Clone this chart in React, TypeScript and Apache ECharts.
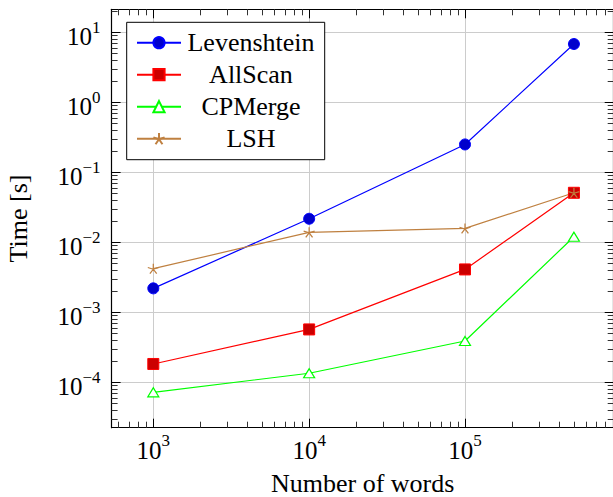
import React, { useEffect, useRef } from 'react';
import * as echarts from 'echarts';

// ---- data ----
const words = [1e3, 1e4, 1e5, 5e5];
const levenshtein = [0.0022, 0.0217, 0.25, 6.8];
const allScan = [0.000183, 0.00057, 0.0041, 0.051];
const cpMerge = [0.000072, 0.000135, 0.00039, 0.012];
const lsh = [0.0042, 0.0139, 0.0158, 0.051];
const seriesNames = ['Levenshtein', 'AllScan', 'CPMerge', 'LSH'];

// ---- ticks ----
const xMajorTicks = [1e3, 1e4, 1e5];
const yMajorTicks = [1e-4, 1e-3, 1e-2, 1e-1, 1, 10];
const xDecades = [1e2, 1e3, 1e4, 1e5];
const yDecades = [1e-5, 1e-4, 1e-3, 1e-2, 1e-1, 1, 10];
const minorMultipliers = [2, 3, 4, 5, 6, 7, 8, 9];

const X_MIN = 540;
const X_MAX = 9.0e5;
const Y_MIN = 2.25e-5;
const Y_MAX = 21.3;

const FONT = "'Liberation Serif', 'Times New Roman', serif";

const minorOf = (decades: number[], lo: number, hi: number) =>
  decades
    .flatMap((d) => minorMultipliers.map((m) => parseFloat((m * d).toPrecision(6))))
    .filter((v) => v >= lo && v <= hi);

const xMinorTicks = minorOf(xDecades, X_MIN, X_MAX);
const yMinorTicks = minorOf(yDecades, Y_MIN, Y_MAX);

const pairs = (ys: number[]) => words.map((x, i) => [x, ys[i]]);

const expLabel = (v: number) => {
  const e = Math.round(Math.log10(v));
  const s = e < 0 ? '\u2212' + Math.abs(e) : String(e);
  return `{b|10}{s|${s}}`;
};

const richLabel = {
  b: { fontSize: 25, lineHeight: 30.5, verticalAlign: 'bottom', fontFamily: FONT, color: '#000' },
  s: { fontSize: 17, lineHeight: 17, verticalAlign: 'top', fontFamily: FONT, color: '#000' },
};

const STAR =
  'path://M0,-1L0,0M0.951,-0.309L0,0M0.588,0.809L0,0M-0.588,0.809L0,0M-0.951,-0.309L0,0';

export default function App() {
  const ref = useRef<HTMLDivElement>(null);

  useEffect(() => {
    if (!ref.current) return;
    const chart = echarts.init(ref.current, undefined, { renderer: 'svg' });

    const gridRect = {
      left: 111.6,
      top: 9.3,
      width: 502.1,
      height: 418.4,
      containLabel: false,
      outerBoundsMode: 'none',
    };
    const axisLine = { show: true, lineStyle: { color: '#000', width: 1.2 } };

    const majorX = (gridIndex: number, position: 'bottom' | 'top', withLabels: boolean) => ({
      type: 'log',
      gridIndex,
      position,
      min: X_MIN,
      max: X_MAX,
      axisLine,
      axisTick: { show: true, inside: true, length: 9, customValues: xMajorTicks, lineStyle: { color: '#000', width: 1 } },
      axisLabel: withLabels
        ? { show: true, customValues: xMajorTicks, formatter: expLabel, rich: richLabel, margin: 4.3 }
        : { show: false },
      splitLine: { show: withLabels, lineStyle: { color: '#cccccc', width: 1 } },
      minorTick: { show: false },
      ...(withLabels
        ? {
            name: 'Number of words',
            nameLocation: 'middle',
            nameGap: 43,
            nameMoveOverlap: false,
            nameTextStyle: { fontSize: 26, lineHeight: 26, fontFamily: FONT, color: '#000' },
          }
        : {}),
    });

    const minorX = (position: 'bottom' | 'top') => ({
      type: 'log',
      gridIndex: 1,
      position,
      min: X_MIN,
      max: X_MAX,
      axisLine: { show: false },
      axisTick: { show: true, inside: true, length: 6, customValues: xMinorTicks, lineStyle: { color: '#333', width: 1 } },
      axisLabel: { show: false },
      splitLine: { show: false },
    });

    const majorY = (gridIndex: number, position: 'left' | 'right', withLabels: boolean) => ({
      type: 'log',
      gridIndex,
      position,
      min: Y_MIN,
      max: Y_MAX,
      axisLine,
      axisTick: { show: true, inside: true, length: 9, customValues: yMajorTicks, lineStyle: { color: '#000', width: 1 } },
      axisLabel: withLabels
        ? { show: true, customValues: yMajorTicks, formatter: expLabel, rich: richLabel, margin: 11, padding: [3.3, 0, 0, 0] }
        : { show: false },
      splitLine: { show: withLabels, lineStyle: { color: '#cccccc', width: 1 } },
      ...(withLabels
        ? {
            name: 'Time [s]',
            nameLocation: 'middle',
            nameGap: 80,
            nameMoveOverlap: false,
            nameTextStyle: { fontSize: 26, lineHeight: 26, fontFamily: FONT, color: '#000' },
          }
        : {}),
    });

    const minorY = (position: 'left' | 'right') => ({
      type: 'log',
      gridIndex: 1,
      position,
      min: Y_MIN,
      max: Y_MAX,
      axisLine: { show: false },
      axisTick: { show: true, inside: true, length: 6, customValues: yMinorTicks, lineStyle: { color: '#333', width: 1 } },
      axisLabel: { show: false },
      splitLine: { show: false },
    });

    const lineSeries = (
      name: string,
      ys: number[],
      color: string,
      symbol: string,
      symbolSize: number | number[],
      itemStyle: any
    ) => ({
      name,
      type: 'line',
      xAxisIndex: 0,
      yAxisIndex: 0,
      data: pairs(ys),
      symbol,
      symbolSize,
      showSymbol: true,
      lineStyle: { color, width: 1.2 },
      itemStyle,
      emphasis: { disabled: true },
    });

    chart.setOption({
      animation: false,
      backgroundColor: '#fff',
      grid: [gridRect, gridRect],
      xAxis: [majorX(0, 'bottom', true), majorX(0, 'top', false), minorX('bottom'), minorX('top')],
      yAxis: [majorY(0, 'left', true), majorY(0, 'right', false), minorY('left'), minorY('right')],
      legend: {
        data: seriesNames,
        orient: 'vertical',
        left: 126.7,
        top: 22.3,
        itemWidth: 44,
        itemHeight: 14,
        itemGap: 6,
        padding: [7.4, 8.7, 8, 9.3],
        borderColor: '#000',
        borderWidth: 1,
        backgroundColor: '#fff',
        selectedMode: false,
        formatter: (name: string) => `{c|${name}}`,
        textStyle: {
          color: '#000',
          fontFamily: FONT,
          fontSize: 26,
          rich: { c: { width: 130, align: 'center', fontSize: 26, lineHeight: 26, fontFamily: FONT, color: '#000' } },
        },
      },
      series: [
        lineSeries(seriesNames[0], levenshtein, '#0000ff', 'circle', 11, {
          color: '#0000cc',
          borderColor: '#0000ff',
          borderWidth: 1,
        }),
        lineSeries(seriesNames[1], allScan, '#ff0000', 'rect', 11, {
          color: '#cc0000',
          borderColor: '#ff0000',
          borderWidth: 1,
        }),
        lineSeries(seriesNames[2], cpMerge, '#00ff00', 'triangle', [11, 9], {
          color: '#ffffff',
          borderColor: '#00ff00',
          borderWidth: 1.2,
        }),
        lineSeries(seriesNames[3], lsh, '#bf8040', STAR, [11, 10], {
          color: 'none',
          borderColor: '#bf8040',
          borderWidth: 1.2,
        }),
      ],
    });

    return () => chart.dispose();
  }, []);

  return (
    <div
      ref={ref}
      style={{ position: 'fixed', left: 0, top: 0, width: 613, height: 497, background: '#fff' }}
    />
  );
}
